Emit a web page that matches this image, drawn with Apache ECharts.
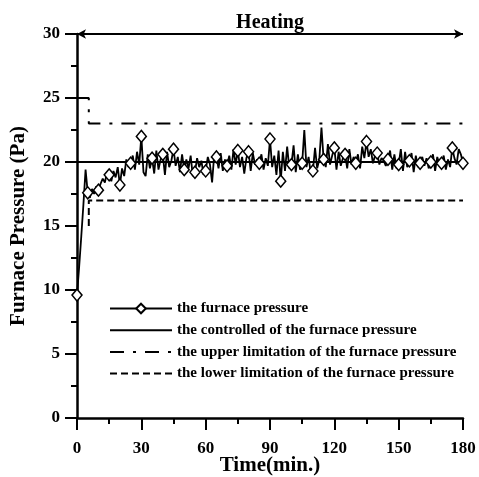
<!DOCTYPE html>
<html><head><meta charset="utf-8">
<script src="https://cdn.jsdelivr.net/npm/echarts@6/dist/echarts.min.js"></script>
<style>html,body{margin:0;padding:0;background:#fff}#c{width:479px;height:477px}</style>
</head><body><div id="c"></div>
<script>
// ---- data ----
const seriesNames = [
  'the furnace pressure',
  'the controlled of the furnace pressure',
  'the upper limitation of the furnace pressure',
  'the lower limitation of the furnace pressure'
];
const xTicks = [0, 30, 60, 90, 120, 150, 180];
const yTicks = [0, 5, 10, 15, 20, 25, 30];
// furnace pressure, one value per minute, t = 0..180
const pressure = [
  9.6,
  11.8, 14.2, 16.7, 19.4, 17.6,
  17.2, 17.9, 17.5, 18.1, 17.8,
  18.3, 18.7, 18.4, 19.2, 19.0,
  18.5, 19.3, 18.8, 19.6, 18.2,
  19.5, 18.9, 20.2, 19.6, 19.9,
  20.5, 19.4, 20.8, 19.8, 22.0,
  19.2, 18.9, 20.6, 19.5, 20.3,
  19.1, 20.9, 19.4, 20.2, 20.6,
  19.0, 20.8, 19.6, 20.1, 21.0,
  19.7, 20.4, 19.2, 20.6, 19.4,
  20.2, 19.5, 20.5, 18.9, 19.2,
  20.3, 19.6, 20.1, 19.0, 19.3,
  20.4, 19.8, 18.4, 20.6, 20.4,
  19.5, 20.7, 19.3, 20.2, 19.7,
  20.5, 19.4, 21.0, 19.8, 20.9,
  19.6, 20.4, 19.1, 20.3, 20.8,
  19.3, 20.7, 19.8, 20.2, 19.9,
  20.6, 19.4, 20.3, 19.7, 21.8,
  19.6, 20.5, 19.0, 20.9, 18.5,
  20.8, 19.3, 21.2, 19.5, 19.8,
  21.3, 19.2, 20.6, 19.4, 19.9,
  22.5, 19.6, 20.4, 19.1, 19.3,
  21.1, 19.5, 20.2, 22.7, 20.2,
  19.6, 21.4, 19.8, 20.5, 21.1,
  19.4, 20.8, 19.7, 20.3, 20.6,
  19.5, 21.0, 19.8, 20.4, 19.9,
  20.6, 19.5, 21.2, 20.3, 21.6,
  20.4, 21.0, 19.9, 20.5, 20.7,
  19.8, 20.3, 20.1, 19.7, 20.2,
  20.9, 19.4, 20.6, 19.5, 19.8,
  21.0, 19.3, 20.8, 19.6, 20.1,
  20.7, 19.2, 20.5, 19.6, 19.9,
  20.4, 19.7, 20.3, 19.5, 20.0,
  20.6, 19.3, 20.4, 19.8, 19.9,
  20.5, 19.4, 20.2, 19.6, 21.1,
  20.3, 19.8, 21.0, 20.6, 19.9
];
const setpoint = [[0, 20], [180, 20]];
const upperLimit = [[0, 25], [5.5, 25], [5.5, 23], [180, 23]];
const lowerLimit = [[5.5, 15], [5.5, 17], [180, 17]];
const heatingRange = [0, 180];
const heatingLabel = 'Heating';

// ---- chart ----
const font = '"Liberation Serif","Times New Roman",serif';
const markerEvery = 5;
const pressureData = pressure.map((v, i) => ({
  value: [i, v],
  symbol: i % markerEvery === 0 ? 'diamond' : 'none'
}));

const chart = echarts.init(document.getElementById('c'), null, {renderer: 'canvas'});
const axisCommon = {
  axisLine: {show: true, lineStyle: {color: '#000', width: 2.5}},
  axisTick: {show: true, length: 12, lineStyle: {color: '#000', width: 2}},
  minorTick: {show: true, splitNumber: 2, length: 6, lineStyle: {color: '#000', width: 2}},
  splitLine: {show: false},
  axisLabel: {color: '#000', fontFamily: font, fontWeight: 'bold', fontSize: 17},
  nameLocation: 'middle',
  nameTextStyle: {color: '#000', fontFamily: font, fontWeight: 'bold', fontSize: 21}
};
const noSymbol = {opacity: 0, color: 'transparent', borderWidth: 0};
chart.setOption({
  animation: false,
  backgroundColor: '#fff',
  grid: {left: 77, right: 16, top: 34, bottom: 59, containLabel: false, outerBoundsMode: 'none'},
  legend: {
    orient: 'vertical',
    left: 104,
    top: 296,
    itemWidth: 62,
    itemHeight: 12,
    itemGap: 6.7,
    textStyle: {color: '#000', fontFamily: font, fontWeight: 'bold', fontSize: 15},
    data: [
      {name: seriesNames[0]},
      {name: seriesNames[1], itemStyle: noSymbol},
      {name: seriesNames[2], itemStyle: noSymbol},
      {name: seriesNames[3], itemStyle: noSymbol}
    ]
  },
  xAxis: Object.assign({}, axisCommon, {
    type: 'value', min: xTicks[0], max: xTicks[xTicks.length - 1], interval: 30,
    name: 'Time(min.)', nameGap: 37, nameMoveOverlap: false,
    axisLabel: Object.assign({}, axisCommon.axisLabel, {margin: 22})
  }),
  yAxis: Object.assign({}, axisCommon, {
    type: 'value', min: yTicks[0], max: yTicks[yTicks.length - 1], interval: 5,
    name: 'Furnace Pressure (Pa)', nameGap: 48,
    axisLabel: Object.assign({}, axisCommon.axisLabel, {margin: 17})
  }),
  series: [
    {
      name: seriesNames[1], type: 'line', data: setpoint, symbol: 'none', z: 2,
      lineStyle: {color: '#000', width: 2},
      itemStyle: {color: '#000'},
      markLine: {
        silent: true, animation: false,
        symbol: ['arrow', 'arrow'], symbolSize: [7, 9],
        lineStyle: {color: '#000', width: 2, type: 'solid'},
        label: {show: false},
        data: [
          [{coord: [heatingRange[0], 30]}, {coord: [heatingRange[1], 30],
            label: {show: true, position: 'middle', formatter: heatingLabel, distance: 1,
              color: '#000', fontFamily: font, fontWeight: 'bold', fontSize: 20}}],
          [{coord: [heatingRange[1], 30.96], symbol: 'none'}, {coord: [heatingRange[1], 29.4], symbol: 'none'}]
        ]
      }
    },
    {
      name: seriesNames[2], type: 'line', data: upperLimit, symbol: 'none', z: 2,
      lineStyle: {color: '#000', width: 2, type: [14, 9, 3, 9]},
      itemStyle: {color: '#000'}
    },
    {
      name: seriesNames[3], type: 'line', data: lowerLimit, symbol: 'none', z: 2,
      lineStyle: {color: '#000', width: 2, type: [7, 4]},
      itemStyle: {color: '#000'}
    },
    {
      name: seriesNames[0], type: 'line', data: pressureData, z: 3,
      showAllSymbol: true, symbol: 'diamond', symbolSize: [10, 12],
      lineStyle: {color: '#000', width: 1.8},
      itemStyle: {color: '#fff', borderColor: '#000', borderWidth: 1.5}
    }
  ]
});
</script>
</body></html>
